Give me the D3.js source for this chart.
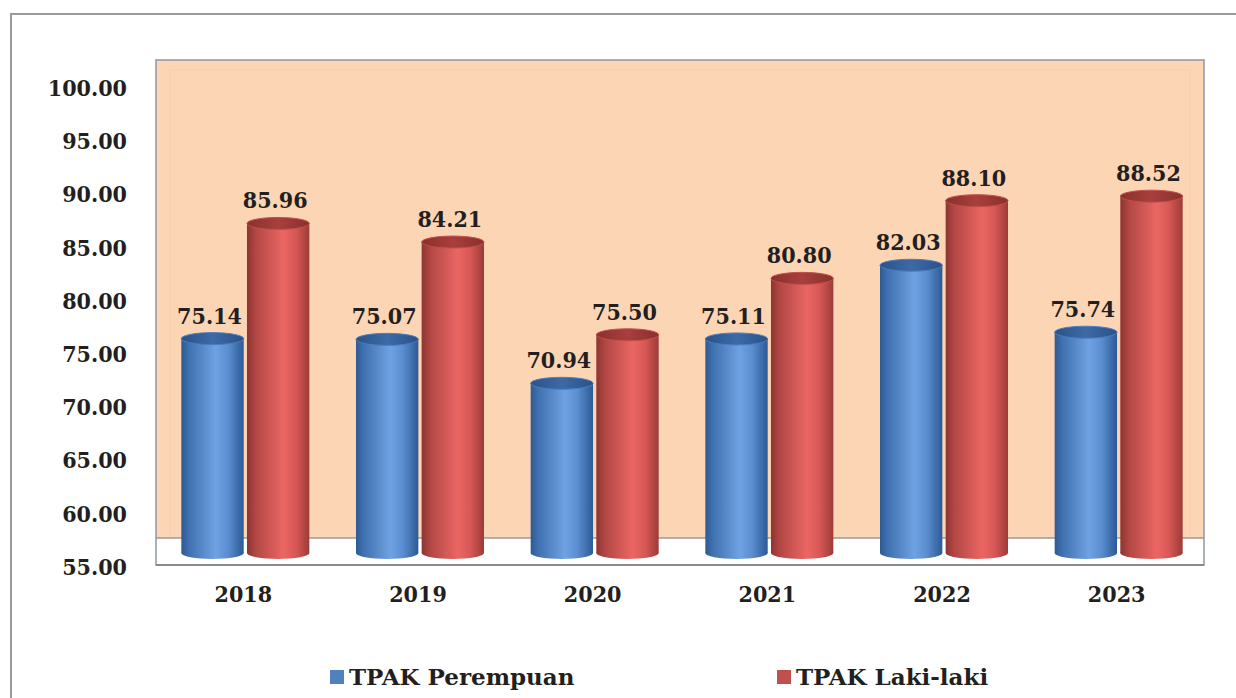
<!DOCTYPE html>
<html>
<head>
<meta charset="utf-8">
<script src="https://cdn.jsdelivr.net/npm/d3@7"></script>
<style>
  body { margin: 0; background: #fff; }
  svg { display: block; }
  svg text { font-family: "DejaVu Serif Condensed", "DejaVu Serif", serif; font-stretch: condensed; }
  svg text.legend { font-family: "DejaVu Serif", serif; font-stretch: normal; }
</style>
</head>
<body>
<svg id="chart" width="1236" height="698"></svg>
<script>
// ---- data ----
var years = ["2018", "2019", "2020", "2021", "2022", "2023"];
var seriesNames = ["TPAK Perempuan", "TPAK Laki-laki"];
var perempuan = [75.14, 75.07, 70.94, 75.11, 82.03, 75.74];
var lakilaki = [85.96, 84.21, 75.50, 80.80, 88.10, 88.52];
var yTicks = [55, 60, 65, 70, 75, 80, 85, 90, 95, 100];

var W = 1236, H = 698;
var svg = d3.select("#chart");
var depth = 14; // 3d offset of the cylinders

// outer frame
svg.append("path")
    .attr("d", "M11," + H + " V14 H" + W)
    .attr("fill", "none")
    .attr("stroke", "#9a9a9a")
    .attr("stroke-width", 2);

// scales
var x0 = d3.scaleBand().domain(years).range([156, 1204]);
var x1 = d3.scaleBand().domain(seriesNames).range([-62, 66]).paddingInner(0.05);
var y = d3.scaleLinear().domain([55, 100]).range([567, 88]);

// gradients
var defs = svg.append("defs");
function grad(id, stops) {
    var g = defs.append("linearGradient").attr("id", id)
        .attr("x1", "0%").attr("x2", "100%").attr("y1", "0%").attr("y2", "0%");
    stops.forEach(function(s) {
        g.append("stop").attr("offset", s[0]).attr("stop-color", s[1]);
    });
}
grad("gBlue", [["0%", "#2d5a92"], ["12%", "#3f70b0"], ["55%", "#6fa2e2"], ["75%", "#5a8ed0"], ["100%", "#2c5a95"]]);
grad("gRed", [["0%", "#8e3432"], ["14%", "#b24744"], ["58%", "#ea6663"], ["78%", "#d85855"], ["100%", "#9c3b38"]]);
grad("gBlueTop", [["0%", "#2a5288"], ["50%", "#3d6aa6"], ["100%", "#2a5288"]]);
grad("gRedTop", [["0%", "#8a302e"], ["50%", "#a83f3c"], ["100%", "#8a302e"]]);

// back wall + floor
var wallTop = y(100) - 28, wallBottom = y(55) - 29, floorFront = y(55) - 2;
var left = x0.range()[0], right = x0.range()[1];
svg.append("rect")
    .attr("x", left).attr("y", wallTop)
    .attr("width", right - left).attr("height", wallBottom - wallTop)
    .attr("fill", "#fcd5b4");
svg.append("rect")
    .attr("x", left + 14).attr("y", wallTop + 10)
    .attr("width", right - left - 28).attr("height", wallBottom - wallTop - 10)
    .attr("fill", "none").attr("stroke", "#f6cfae").attr("stroke-width", 1);
svg.append("rect")
    .attr("x", left).attr("y", wallBottom)
    .attr("width", right - left).attr("height", floorFront - wallBottom)
    .attr("fill", "#ffffff");
svg.append("path")
    .attr("d", "M" + left + "," + floorFront + " V" + wallTop + " H" + right + " V" + floorFront + " Z")
    .attr("fill", "none").attr("stroke", "#8f97a6").attr("stroke-width", 1.5);
svg.append("line")
    .attr("x1", left).attr("x2", right)
    .attr("y1", wallBottom).attr("y2", wallBottom)
    .attr("stroke", "#9a9a9a").attr("stroke-width", 1.5);
svg.append("line")
    .attr("x1", left).attr("x2", right)
    .attr("y1", floorFront).attr("y2", floorFront)
    .attr("stroke", "#8a8a8a").attr("stroke-width", 2);

// y axis labels
var yAxis = svg.append("g")
    .attr("transform", "translate(127,0)")
    .call(d3.axisLeft(y).tickValues(yTicks).tickSize(0).tickPadding(0)
        .tickFormat(function(d) { return d3.format(".2f")(d); }));
yAxis.attr("font-family", null);
yAxis.select(".domain").remove();
yAxis.selectAll("text")
    .style("font-size", "23px")
    .style("font-weight", "bold").attr("fill", "#231f20");

// x axis labels
var xAxis = svg.append("g")
    .attr("transform", "translate(0,586)")
    .call(d3.axisBottom(x0).tickSize(0).tickPadding(0));
xAxis.attr("font-family", null);
xAxis.select(".domain").remove();
xAxis.selectAll("text")
    .style("font-size", "23px")
    .style("font-weight", "bold").attr("fill", "#231f20");

// cylinders
var rows = [];
years.forEach(function(yr, i) {
    rows.push({ year: yr, s: seriesNames[0], v: perempuan[i], fill: "url(#gBlue)", top: "url(#gBlueTop)" });
    rows.push({ year: yr, s: seriesNames[1], v: lakilaki[i], fill: "url(#gRed)", top: "url(#gRedTop)" });
});

var bw = x1.bandwidth(), ry = 6;
var base = y(55) - depth;
function cx(d) { return x0(d.year) + x0.bandwidth() / 2 + x1(d.s) + bw / 2; }
var cyl = svg.selectAll(".cyl").data(rows).enter().append("g").attr("class", "cyl");

cyl.append("ellipse")
    .attr("cx", cx)
    .attr("cy", base)
    .attr("rx", bw / 2).attr("ry", ry)
    .attr("fill", function(d) { return d.fill; });
cyl.append("rect")
    .attr("x", function(d) { return cx(d) - bw / 2; })
    .attr("y", function(d) { return y(d.v) - depth; })
    .attr("width", bw)
    .attr("height", function(d) { return base - (y(d.v) - depth); })
    .attr("fill", function(d) { return d.fill; });
cyl.append("ellipse")
    .attr("cx", cx)
    .attr("cy", function(d) { return y(d.v) - depth; })
    .attr("rx", bw / 2).attr("ry", ry)
    .attr("fill", function(d) { return d.top; })
    .attr("stroke", function(d) { return d.s === seriesNames[0] ? "#4a7cc0" : "#c24e4b"; })
    .attr("stroke-width", 1);

// value labels
cyl.append("text")
    .attr("x", function(d) { return cx(d) - 3; })
    .attr("y", function(d) { return y(d.v) - depth - 15; })
    .attr("text-anchor", "middle")
    .style("font-size", "23px")
    .style("font-weight", "bold").attr("fill", "#231f20")
    .text(function(d) { return d3.format(".2f")(d.v); });

// legend
var legendX = [330, 777];
var legendColor = ["#4f81bd", "#c0504d"];
var lg = svg.selectAll(".lg").data(seriesNames).enter().append("g")
    .attr("class", "lg")
    .attr("transform", function(d, i) { return "translate(" + legendX[i] + ",670)"; });
lg.append("rect")
    .attr("width", 14).attr("height", 14)
    .attr("fill", function(d, i) { return legendColor[i]; });
lg.append("text")
    .attr("class", "legend")
    .attr("x", 19).attr("y", 15)
    .style("font-size", "23px")
    .style("font-weight", "bold").attr("fill", "#231f20")
    .text(function(d) { return d; });
</script>
</body>
</html>
